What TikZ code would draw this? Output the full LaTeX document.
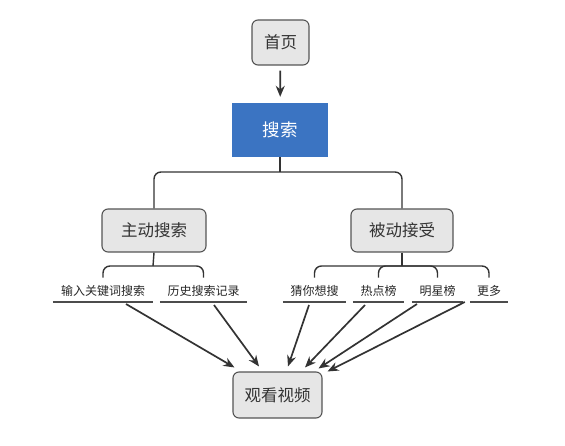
\documentclass[tikz,border=0pt]{standalone}
\usepackage{xcolor}
\usepackage{fontspec}
\newfontfamily\cjk{Noto Sans CJK SC}
\usepackage{tikz}
\usetikzlibrary{arrows.meta}

\definecolor{boxgray}{HTML}{E6E6E6}
\definecolor{edgegray}{HTML}{555555}
\definecolor{linegray}{HTML}{333333}
\definecolor{searchblue}{HTML}{3B74C2}

\begin{document}
\begin{tikzpicture}[x=1pt, y=-1pt,
    every node/.style={font=\cjk},
    graybox/.style={draw=edgegray, fill=boxgray, line width=1.1pt, rounded corners=6pt,
      text=black!80, font={\cjk\fontsize{16.5pt}{19pt}\selectfont}, inner sep=0pt},
    bluebox/.style={fill=searchblue, text=white, inner sep=0pt,
      font={\cjk\fontsize{17.5pt}{20pt}\selectfont}},
    lbl/.style={anchor=south, inner sep=0pt, text height=12pt, text depth=6pt,
      text=black!85, font={\cjk\fontsize{12pt}{14pt}\selectfont}},
    uline/.style={draw=black!70, line width=1.3pt},
    tree/.style={draw=linegray, line width=1.4pt, rounded corners=7pt},
    flow/.style={draw=linegray, line width=1.7pt, -{Stealth[length=11pt,width=9pt]}}]
    \useasboundingbox (0,0) rectangle (565,446);

    % top part
    \node[graybox, minimum width=57pt, minimum height=45pt] (home) at (280.5,42.5) {首页};
    \node[bluebox, minimum width=96pt, minimum height=54pt] (search) at (280,130) {搜索};
    \draw[flow, shorten <=5pt, shorten >=6pt] (home) -- (search);

    \node[graybox, minimum width=104pt, minimum height=43pt] (active) at (154,230.5) {主动搜索};
    \node[graybox, minimum width=102pt, minimum height=43pt] (passive) at (402,230.5) {被动接受};
    \coordinate (hub) at (280,172);
    \draw[tree] (search.south) -- (hub);
    \draw[tree] (active.north) |- (hub) -| (passive.north);

    % labels with underline
    \node[lbl, minimum width=100pt] (l1) at (103,302) {输入关键词搜索};
    \node[lbl, minimum width=87pt] (l2) at (203.5,302) {历史搜索记录};
    \node[lbl, minimum width=63pt] (r1) at (314.5,302) {猜你想搜};
    \node[lbl, minimum width=51pt] (r2) at (378.5,302) {热点榜};
    \node[lbl, minimum width=51pt] (r3) at (437.5,302) {明星榜};
    \node[lbl, minimum width=38pt] (r4) at (489,302) {更多};
    \foreach \n in {l1,l2,r1,r2,r3,r4}
      \draw[uline] (\n.south west) -- (\n.south east);

    \coordinate (hubl) at (153,266);
    \coordinate (hubr) at (402,266);
    \draw[tree] (active.south) -- (hubl);
    \draw[tree] ([yshift=6pt]l1.north) |- (hubl) -| ([yshift=6pt]l2.north);
    \draw[tree] (passive.south) -- (hubr);
    \draw[tree] ([yshift=6pt]r1.north) |- (hubr) -| ([yshift=6pt]r4.north);
    \draw[tree] ([yshift=6pt]r2.north) |- (hubr);
    \draw[tree] ([yshift=6pt]r3.north) |- (hubr);

    % bottom
    \node[graybox, minimum width=89pt, minimum height=46pt] (view) at (277.5,395) {观看视频};
    \draw[flow] ([xshift=23pt,yshift=-2pt]l1.south) -- ([xshift=2pt,yshift=4pt]view.north west);
    \draw[flow] ([xshift=10.5pt,yshift=-3pt]l2.south) -- ([xshift=-18.5pt,yshift=5pt]view.north);
    \draw[flow] ([xshift=-5.5pt,yshift=-3pt]r1.south) -- ([xshift=10.5pt,yshift=5pt]view.north);
    \draw[flow] ([xshift=-13.5pt,yshift=-3pt]r2.south) -- ([xshift=27.5pt,yshift=4pt]view.north);
    \draw[flow] ([xshift=-20.5pt,yshift=-2pt]r3.south) -- ([xshift=-4pt,yshift=3pt]view.north east);
    \draw[flow] ([xshift=-5pt]r4.south west) -- ([xshift=5pt]view.north east);
  \end{tikzpicture}
\end{document}
